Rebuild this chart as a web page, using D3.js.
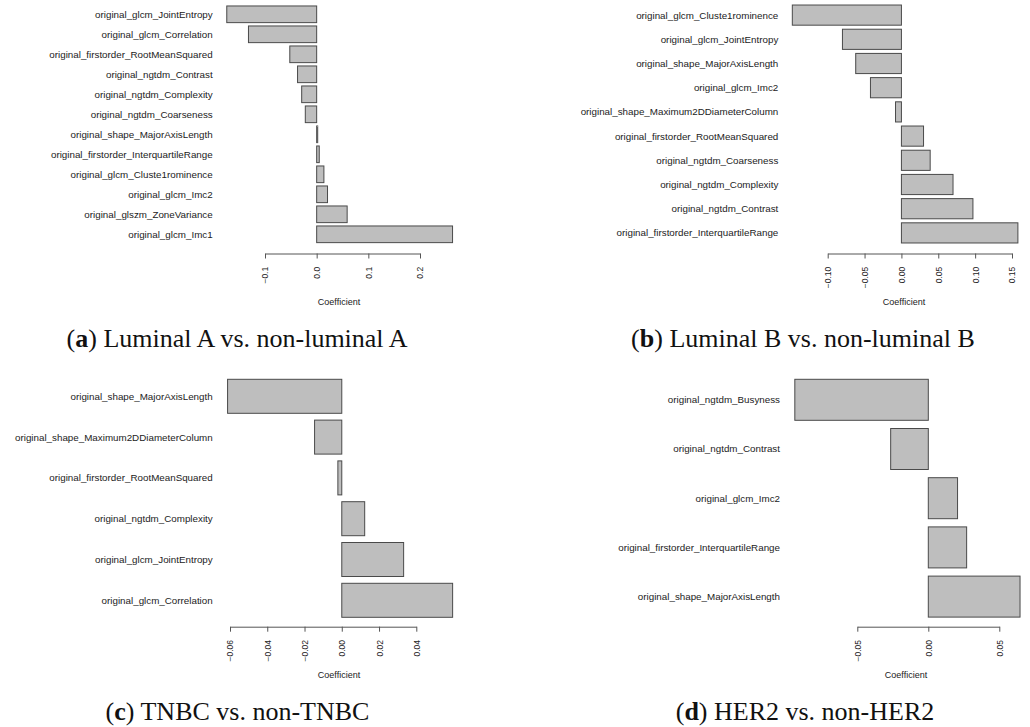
<!DOCTYPE html>
<html>
<head>
<meta charset="utf-8">
<script src="https://cdn.jsdelivr.net/npm/d3@7"></script>
<style>
  html, body { margin: 0; padding: 0; background: #fff; }
  svg { display: block; }
</style>
</head>
<body>
<svg id="chart" width="1030" height="727"></svg>
<script>
// ---- Data ----
const catsA = ["original_glcm_JointEntropy", "original_glcm_Correlation", "original_firstorder_RootMeanSquared",
  "original_ngtdm_Contrast", "original_ngtdm_Complexity", "original_ngtdm_Coarseness",
  "original_shape_MajorAxisLength", "original_firstorder_InterquartileRange", "original_glcm_Cluste1rominence",
  "original_glcm_Imc2", "original_glszm_ZoneVariance", "original_glcm_Imc1"];
const valsA = [-0.174, -0.132, -0.052, -0.037, -0.029, -0.022, 0.002, 0.005, 0.014, 0.021, 0.059, 0.263];
const ticksA = [-0.1, 0.0, 0.1, 0.2];

const catsB = ["original_glcm_Cluste1rominence", "original_glcm_JointEntropy", "original_shape_MajorAxisLength",
  "original_glcm_Imc2", "original_shape_Maximum2DDiameterColumn", "original_firstorder_RootMeanSquared",
  "original_ngtdm_Coarseness", "original_ngtdm_Complexity", "original_ngtdm_Contrast",
  "original_firstorder_InterquartileRange"];
const valsB = [-0.148, -0.080, -0.062, -0.042, -0.008, 0.030, 0.039, 0.070, 0.097, 0.158];
const ticksB = [-0.10, -0.05, 0.00, 0.05, 0.10, 0.15];

const catsC = ["original_shape_MajorAxisLength", "original_shape_Maximum2DDiameterColumn",
  "original_firstorder_RootMeanSquared", "original_ngtdm_Complexity", "original_glcm_JointEntropy",
  "original_glcm_Correlation"];
const valsC = [-0.0613, -0.0146, -0.0021, 0.0123, 0.0332, 0.0595];
const ticksC = [-0.06, -0.04, -0.02, 0.00, 0.02, 0.04];

const catsD = ["original_ngtdm_Busyness", "original_ngtdm_Contrast", "original_glcm_Imc2",
  "original_firstorder_InterquartileRange", "original_shape_MajorAxisLength"];
const valsD = [-0.094, -0.0265, 0.0206, 0.027, 0.0646];
const ticksD = [-0.05, 0.00, 0.05];

const axisTitle = "Coefficient";
const captionLetters = ["a", "b", "c", "d"];
const captionTexts = [" Luminal A vs. non-luminal A", " Luminal B vs. non-luminal B", " TNBC vs. non-TNBC", " HER2 vs. non-HER2"];

// ---- Layout (positions only) ----
const panels = [
  { cats: catsA, vals: valsA, ticks: ticksA, fmt: ".1f",
    xr: [265, 420], yr: [4.3, 244.3], labelX: 212.7, axisY: 253.5, titleX: 339, capX: 237, capY: 347 },
  { cats: catsB, vals: valsB, ticks: ticksB, fmt: ".2f",
    xr: [827.7, 1012], yr: [3, 245], labelX: 778.3, axisY: 253.5, titleX: 904, capX: 803, capY: 347 },
  { cats: catsC, vals: valsC, ticks: ticksC, fmt: ".2f",
    xr: [230, 416.3], yr: [375.9, 620.7], labelX: 212.7, axisY: 626.7, titleX: 339, capX: 237.5, capY: 720 },
  { cats: catsD, vals: valsD, ticks: ticksD, fmt: ".2f",
    xr: [857.3, 999.3], yr: [375.2, 621.2], labelX: 780, axisY: 626.7, titleX: 906, capX: 805, capY: 720 }
];

const svg = d3.select("#chart");
const sans = "'Liberation Sans', Arial, sans-serif";

panels.forEach((p, i) => {
  const g = svg.append("g");
  const x = d3.scaleLinear()
    .domain([p.ticks[0], p.ticks[p.ticks.length - 1]])
    .range(p.xr);
  const y = d3.scaleBand()
    .domain(p.cats)
    .range(p.yr)
    .paddingInner(1 / 6)
    .paddingOuter(1 / 12);

  // bars
  g.selectAll("rect.bar")
    .data(p.cats.map((c, k) => ({ c, v: p.vals[k] })))
    .join("rect")
    .attr("class", "bar")
    .attr("x", d => Math.min(x(0), x(d.v)))
    .attr("y", d => y(d.c))
    .attr("width", d => Math.abs(x(d.v) - x(0)))
    .attr("height", y.bandwidth())
    .attr("fill", "#bebebe")
    .attr("stroke", "#4a4a4a")
    .attr("stroke-width", 1);

  // category labels
  g.selectAll("text.cat")
    .data(p.cats)
    .join("text")
    .attr("class", "cat")
    .attr("x", p.labelX)
    .attr("y", d => y(d) + y.bandwidth() / 2)
    .attr("dy", "0.35em")
    .attr("text-anchor", "end")
    .attr("font-family", sans)
    .attr("font-size", 9.8)
    .attr("fill", "#222")
    .text(d => d);

  // x axis
  const ax = g.append("g")
    .attr("transform", `translate(0,${p.axisY})`)
    .call(d3.axisBottom(x).tickValues(p.ticks).tickSize(5).tickSizeOuter(0)
      .tickFormat(d3.format(p.fmt)));
  ax.select(".domain").attr("stroke", "#555");
  ax.selectAll(".tick line").attr("stroke", "#555");
  ax.selectAll(".tick text")
    .attr("transform", "rotate(-90)")
    .attr("x", -13.3)
    .attr("y", 0)
    .attr("dy", "0.35em")
    .attr("text-anchor", "end")
    .attr("font-family", sans)
    .attr("font-size", 8.5)
    .attr("fill", "#222");

  // axis title
  g.append("text")
    .attr("x", p.titleX)
    .attr("y", p.axisY + 48.5)
    .attr("dy", "0.35em")
    .attr("text-anchor", "middle")
    .attr("font-family", sans)
    .attr("font-size", 9)
    .attr("fill", "#222")
    .text(axisTitle);

  // caption
  const cap = svg.append("text")
    .attr("x", p.capX)
    .attr("y", p.capY)
    .attr("text-anchor", "middle")
    .attr("font-family", "'Liberation Serif', 'Times New Roman', serif")
    .attr("font-size", 26)
    .attr("fill", "#111");
  cap.append("tspan").text("(");
  cap.append("tspan").attr("font-weight", "bold").text(captionLetters[i]);
  cap.append("tspan").text(")" + captionTexts[i]);
});
</script>
</body>
</html>
